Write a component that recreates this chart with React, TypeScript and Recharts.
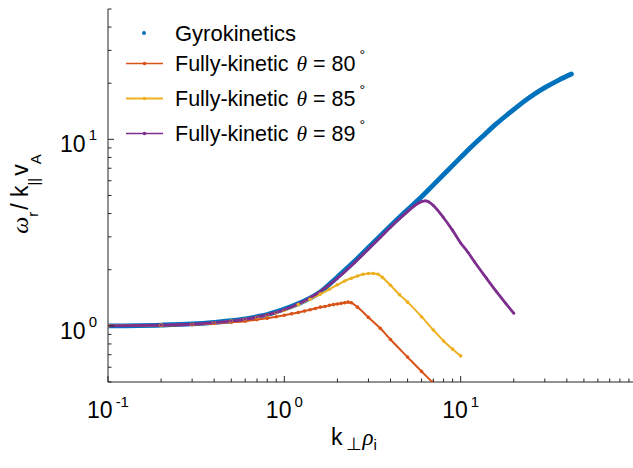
import React from 'react';
import { LineChart, Line, XAxis, YAxis, Legend } from 'recharts';

// Gyrokinetics (dense dots in the original)
const kGyro = [0.1, 0.2, 0.3, 0.4, 0.5, 0.6, 0.7, 0.8, 0.9, 1.0, 1.3, 1.6, 2.0, 2.5, 3.0, 3.8, 4.8, 5.9, 7.0, 8.3, 10, 11.2, 13.5, 15.9, 19, 22.5, 26, 30.5, 36, 42.5];
const vGyro = [1.0, 1.01, 1.025, 1.045, 1.065, 1.09, 1.12, 1.15, 1.19, 1.23, 1.36, 1.52, 1.83, 2.22, 2.63, 3.28, 4.05, 4.85, 5.7, 6.7, 8.0, 8.9, 10.5, 12.1, 13.9, 15.8, 17.4, 19.1, 20.8, 22.4];

// Fully-kinetic, theta = 80
const k80 = [0.1, 0.2, 0.3, 0.4, 0.5, 0.6, 0.7, 0.8, 0.9, 1.0, 1.1, 1.2, 1.3, 1.4, 1.5, 1.6, 1.7, 1.8, 1.9, 2.0, 2.1, 2.2, 2.3, 2.4, 2.6, 3.0, 3.5, 4.0, 5.0, 6.0, 6.9];
const v80 = [1.0, 1.005, 1.015, 1.03, 1.045, 1.06, 1.08, 1.1, 1.12, 1.14, 1.16, 1.18, 1.2, 1.22, 1.24, 1.26, 1.27, 1.29, 1.3, 1.31, 1.32, 1.33, 1.34, 1.33, 1.26, 1.11, 0.97, 0.845, 0.68, 0.57, 0.5];

// Fully-kinetic, theta = 85
const k85 = [0.1, 0.2, 0.3, 0.4, 0.5, 0.6, 0.7, 0.8, 0.9, 1.0, 1.2, 1.4, 1.6, 1.8, 2.0, 2.2, 2.4, 2.6, 2.8, 3.0, 3.2, 3.4, 3.6, 4.0, 4.5, 5.0, 6.0, 7.0, 8.0, 9.0, 10.0];
const v85 = [1.0, 1.01, 1.02, 1.04, 1.06, 1.085, 1.11, 1.14, 1.175, 1.21, 1.3, 1.39, 1.48, 1.57, 1.66, 1.74, 1.8, 1.85, 1.89, 1.91, 1.91, 1.89, 1.82, 1.65, 1.47, 1.34, 1.12, 0.95, 0.83, 0.75, 0.69];

// Fully-kinetic, theta = 89
const k89 = [0.1, 0.2, 0.3, 0.4, 0.5, 0.6, 0.7, 0.8, 0.9, 1.0, 1.5, 2.0, 2.5, 3.0, 3.5, 4.0, 4.5, 5.0, 5.5, 6.0, 6.3, 6.6, 7.0, 8.0, 9.0, 10.0, 11, 12, 14, 16, 18, 20];
const v89 = [1.0, 1.01, 1.02, 1.04, 1.06, 1.085, 1.115, 1.145, 1.18, 1.22, 1.47, 1.8, 2.18, 2.58, 2.98, 3.38, 3.75, 4.1, 4.42, 4.64, 4.68, 4.62, 4.42, 3.8, 3.25, 2.78, 2.48, 2.2, 1.8, 1.52, 1.32, 1.17];

const thetas = ['80', '85', '89'];

const xTicks = [0.1, 0.2, 0.3, 0.4, 0.5, 0.6, 0.7, 0.8, 0.9, 1, 2, 3, 4, 5, 6, 7, 8, 9, 10, 20, 30, 40, 50, 60, 70, 80, 90, 100];
const yTicks = [0.5, 0.6, 0.7, 0.8, 0.9, 1, 2, 3, 4, 5, 6, 7, 8, 9, 10, 20, 30, 40, 50];
const xLabelTicks = [0.1, 1, 10];
const yLabelTicks = [1, 10];

const BLUE = '#0072BD';
const ORANGE = '#D95319';
const YELLOW = '#EDB120';
const PURPLE = '#7E2F8E';
const AXIS = '#262626';
const SANS = '"Liberation Sans", Arial, Helvetica, sans-serif';
const SERIF = '"Liberation Serif", "DejaVu Serif", serif';

const zip = (ks: number[], vs: number[]) => ks.map((k, i) => ({ k, v: vs[i] }));
const gyro = zip(kGyro, vGyro);
const fk = [zip(k80, v80), zip(k85, v85), zip(k89, v89)];
const fkColors = [ORANGE, YELLOW, PURPLE];

const isMajor = (v: number) => Math.abs(Math.log10(v) - Math.round(Math.log10(v))) < 1e-6;
const expOf = (v: number) => String(Math.round(Math.log10(v)));
const hasLabel = (list: number[], v: number) => list.some((t) => Math.abs(t - v) < 1e-9);

const BottomTick = (props: any) => {
  const { x, y, payload } = props;
  const v = payload.value;
  const len = isMajor(v) ? 6 : 3.5;
  return (
    <g>
      <line x1={x} x2={x} y1={y} y2={y - len} stroke={AXIS} strokeWidth={1} />
      {hasLabel(xLabelTicks, v) && (
        <text x={x} y={y + 36} textAnchor="middle" fontFamily={SANS} fontSize={23} fill="#000">
          10
          <tspan dx={3} dy={-11} fontSize={15}>{expOf(v)}</tspan>
        </text>
      )}
    </g>
  );
};

const TopTick = (props: any) => {
  const { x, y, payload } = props;
  const len = isMajor(payload.value) ? 6 : 3.5;
  return <line x1={x} x2={x} y1={y} y2={y + len} stroke={AXIS} strokeWidth={1} />;
};

const LeftTick = (props: any) => {
  const { x, y, payload } = props;
  const v = payload.value;
  const len = isMajor(v) ? 6 : 3.5;
  return (
    <g>
      <line x1={x} x2={x + len} y1={y} y2={y} stroke={AXIS} strokeWidth={1} />
      {hasLabel(yLabelTicks, v) && (
        <text x={x - 11} y={y + 13} textAnchor="end" fontFamily={SANS} fontSize={23} fill="#000">
          10
          <tspan dx={3} dy={-12} fontSize={15}>{expOf(v)}</tspan>
        </text>
      )}
    </g>
  );
};

const RightTick = (props: any) => {
  const { x, y, payload } = props;
  const len = isMajor(payload.value) ? 6 : 3.5;
  return <line x1={x} x2={x - len} y1={y} y2={y} stroke={AXIS} strokeWidth={1} />;
};

const LegendBox = () => {
  const rowY = [33, 63.5, 98.5, 133.5];
  return (
    <svg width={400} height={160} style={{ position: 'absolute', left: 0, top: 0 }}>
      <circle cx={144} cy={rowY[0]} r={2} fill={BLUE} />
      <text x={175} y={rowY[0] + 7.5} fontFamily={SANS} fontSize={22} fill="#000">Gyrokinetics</text>
      {thetas.map((t, i) => {
        const y = rowY[i + 1];
        return (
          <g key={t}>
            <line x1={126} x2={163} y1={y} y2={y} stroke={fkColors[i]} strokeWidth={i === 1 ? 2 : 1.3} />
            <circle cx={144.5} cy={y} r={1.8} fill={fkColors[i]} />
            <text x={175} y={y + 7.5} fontFamily={SANS} fontSize={21.5} fill="#000">
              Fully-kinetic
              <tspan dx={8} fontFamily={SERIF} fontStyle="italic">θ</tspan>
              <tspan> = {t}</tspan>
              <tspan dx={4} dy={-11} fontSize={14}>°</tspan>
            </text>
          </g>
        );
      })}
    </svg>
  );
};

const App = () => {
  return (
    <div style={{ position: 'absolute', left: 0, top: 0, width: 633, height: 468, overflow: 'hidden', background: '#fff' }}>
      <LineChart width={640} height={468} margin={{ top: 9, right: 3, bottom: 0, left: 0 }}>
        <XAxis
          xAxisId="b"
          dataKey="k"
          type="number"
          scale="log"
          domain={[0.1, 100]}
          allowDataOverflow
          ticks={xTicks}
          interval={0}
          tickSize={0}
          tickMargin={0}
          tick={<BottomTick />}
          tickLine={false}
          axisLine={{ stroke: AXIS, strokeWidth: 1 }}
          height={86}
        />
        <XAxis
          xAxisId="t"
          orientation="top"
          dataKey="k"
          type="number"
          scale="log"
          domain={[0.1, 100]}
          allowDataOverflow
          ticks={xTicks}
          interval={0}
          tickSize={0}
          tickMargin={0}
          tick={<TopTick />}
          tickLine={false}
          axisLine={{ stroke: AXIS, strokeWidth: 1 }}
          height={0}
        />
        <YAxis
          yAxisId="l"
          type="number"
          scale="log"
          domain={[0.5, 50]}
          allowDataOverflow
          ticks={yTicks}
          interval={0}
          tickSize={0}
          tickMargin={0}
          tick={<LeftTick />}
          tickLine={false}
          axisLine={{ stroke: AXIS, strokeWidth: 1 }}
          width={108}
        />
        <YAxis
          yAxisId="r"
          orientation="right"
          type="number"
          scale="log"
          domain={[0.5, 50]}
          allowDataOverflow
          ticks={yTicks}
          interval={0}
          tickSize={0}
          tickMargin={0}
          tick={<RightTick />}
          tickLine={false}
          axisLine={{ stroke: AXIS, strokeWidth: 1 }}
          width={0}
        />
        <Line
          xAxisId="b"
          yAxisId="l"
          data={gyro}
          dataKey="v"
          name="Gyrokinetics"
          type="monotone"
          stroke={BLUE}
          strokeWidth={4.8}
          strokeLinecap="round"
          dot={false}
          isAnimationActive={false}
        />
        {fk.map((d, i) => (
          <Line
            key={thetas[i]}
            xAxisId="b"
            yAxisId="l"
            data={d}
            dataKey="v"
            name={`Fully-kinetic θ = ${thetas[i]}°`}
            type="monotone"
            stroke={fkColors[i]}
            strokeWidth={i === 2 ? 2.8 : 2}
            strokeLinecap="round"
            dot={{ r: i === 2 ? 1.4 : 1.8, fill: fkColors[i], stroke: fkColors[i], strokeWidth: 0 }}
            isAnimationActive={false}
          />
        ))}
        <Legend
          layout="vertical"
          align="center"
          verticalAlign="middle"
          content={() => <LegendBox />}
          wrapperStyle={{ position: 'absolute', left: 0, top: 0, width: 400, height: 160 }}
        />
      </LineChart>
      <svg width={633} height={468} style={{ position: 'absolute', left: 0, top: 0, pointerEvents: 'none' }}>
        <text transform="rotate(-90, 28, 194)" x={28} y={194} textAnchor="middle" fontFamily={SANS} fontSize={23} fill="#000">
          <tspan fontFamily={SERIF} fontStyle="italic" fontSize={24}>ω</tspan>
          <tspan dy={10} fontSize={15}>r</tspan>
          <tspan dy={-10} dx={2}>/ k</tspan>
          <tspan dy={11} fontSize={15}>||</tspan>
          <tspan dy={-11} dx={2}>v</tspan>
          <tspan dy={13} fontSize={15}>A</tspan>
        </text>
        <text x={331} y={445} fontFamily={SANS} fontSize={23} fill="#000">
          k
          <tspan dx={3} dy={5} fontSize={18}>⊥</tspan>
          <tspan dx={1} dy={-5} fontFamily={SERIF} fontStyle="italic">ρ</tspan>
          <tspan dy={5} fontSize={15}>i</tspan>
        </text>
      </svg>
    </div>
  );
};

export default App;
